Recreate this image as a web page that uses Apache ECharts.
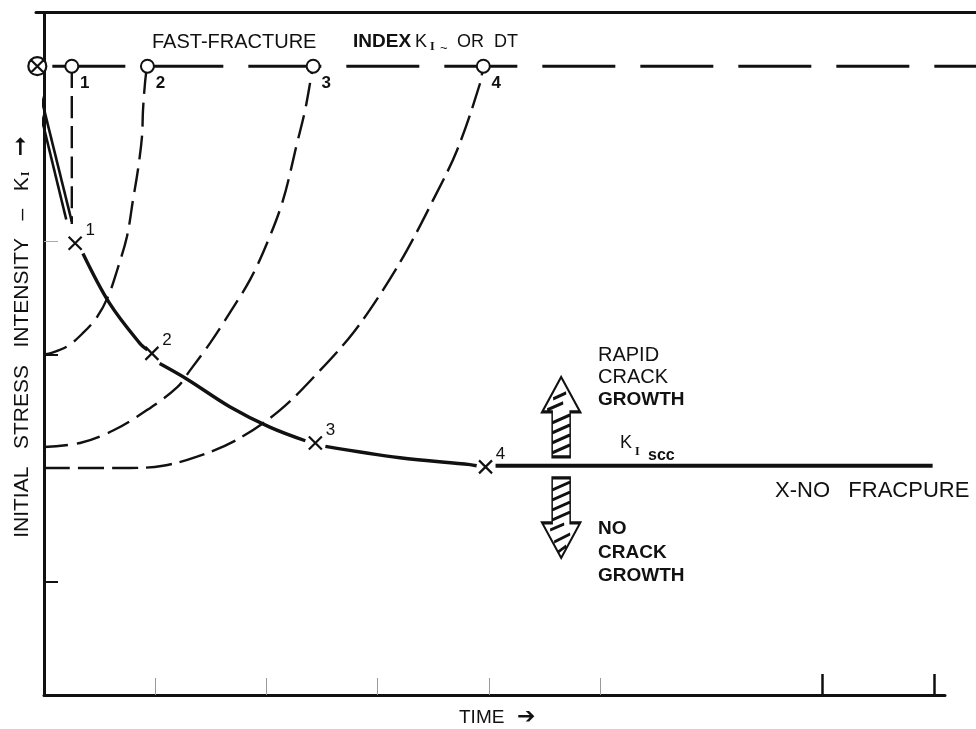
<!DOCTYPE html>
<html>
<head>
<meta charset="utf-8">
<script src="https://cdn.jsdelivr.net/npm/echarts@6/dist/echarts.min.js"></script>
<style>
  html, body { margin: 0; padding: 0; background: #fff; }
  #chart { width: 976px; height: 729px; }
</style>
</head>
<body>
<div id="chart"></div>
<script>
// Fast-fracture level of K and the time span it is drawn over
const fastFractureK = 5.54;
const fastFractureSpan = [-0.06, 8.38];

// Fracture time of each specimen on the fast-fracture line (open circles)
const fractureTimes = [0.25, 0.93, 2.42, 3.95];
const fractureLabels = ['1', '2', '3', '4'];

// Reference specimen broken at once (circled cross)
const instantT = [-0.06];

// Initial K and time to failure of each specimen (X points)
const failTimes = [0.28, 0.97, 2.44, 3.97];
const failK = [3.98, 3.01, 2.22, 2.01];
const failLabels = ['1', '2', '3', '4'];

// K rising with crack growth, specimen 1 to 4 (time, K)
const path1T = [0.25, 0.25];
const path1K = [5.54, 4.15];
const path2T = [0, 0.054, 0.207, 0.351, 0.477, 0.576, 0.657, 0.746, 0.800, 0.845, 0.881, 0.890, 0.908, 0.926];
const path2K = [3.00, 3.01, 3.07, 3.19, 3.33, 3.51, 3.74, 4.04, 4.36, 4.63, 4.92, 5.15, 5.39, 5.54];
const path3T = [0, 0.324, 0.621, 0.926, 1.196, 1.313, 1.493, 1.646, 1.853, 2.005, 2.149, 2.275, 2.347, 2.401, 2.419];
const path3K = [2.185, 2.22, 2.33, 2.51, 2.71, 2.86, 3.10, 3.33, 3.66, 3.98, 4.36, 4.86, 5.15, 5.44, 5.54];
const path4T = [0, 0.773, 1.070, 1.376, 1.736, 2.122, 2.482, 2.779, 3.049, 3.264, 3.498, 3.714, 3.921, 3.948];
const path4K = [2.00, 2.00, 2.02, 2.10, 2.25, 2.51, 2.86, 3.19, 3.57, 3.92, 4.36, 4.80, 5.39, 5.54];

// Initial K vs time to failure, broken (null) around each X
const envelopeT = [-0.06, 0.25, null, 0.35, 0.59, 0.86, 0.93, null, 1.04, 1.29, 1.67, 2.03, 2.35, null, 2.53, 3.20, 3.83, 3.89];
const envelopeK = [5.40, 4.17, null, 3.89, 3.45, 3.10, 3.04, null, 2.92, 2.78, 2.54, 2.36, 2.24, null, 2.19, 2.09, 2.03, 2.02];
// second stroke of the steep first branch
const leadT = [-0.10, 0.20];
const leadK = [5.40, 4.19];

// Threshold K_Iscc and its extent
const kIscc = 2.02;
const kIsccSpan = [4.06, 7.99];

// Hatched direction arrows (time, K of arrow centre)
const upArrowAt = [4.65, 2.45];
const downArrowAt = [4.65, 1.56];

// Axis ranges and tick values
const timeMax = 8.38;      // plotting extent (right edge of the frame)
const timeAxisMax = 8.1;   // end of the drawn time axis
const kMax = 6;
const xTicksLight = [1, 2, 3, 4, 5];
const xTicksDark = [7, 8];
const yTicksDark = [1, 2, 3];
const yTicksLight = [4];

const FONT = '"Liberation Sans", Arial, sans-serif';
const BLACK = '#111';

const pairs = (xs, ys) => xs.map((x, i) => [x, ys[i]]);
function segments(xs, ys) {
  const out = [];
  let cur = [];
  xs.forEach((x, i) => {
    if (x === null) { if (cur.length) out.push(cur); cur = []; }
    else cur.push([x, ys[i]]);
  });
  if (cur.length) out.push(cur);
  return out;
}

const dashedCurve = (data, dash) => ({
  type: 'line', data, symbol: 'none', silent: true, z: 2, clip: false, smooth: 0.35,
  lineStyle: { color: BLACK, width: 2.4, type: dash }
});
const solidCurve = (data, width) => ({
  type: 'line', data, symbol: 'none', silent: true, z: 3, clip: false, smooth: 0.35,
  lineStyle: { color: BLACK, width }
});

const UP_ARROW = 'path://M19,0L38,35L28,35L28,80L10,80L10,35L0,35Z' +
  'M10,46L28,38M10,56L28,48M10,66L28,58M10,76L28,68M5,33L21,26M11,22L24,16';
const DOWN_ARROW = 'path://M19,80L38,45L28,45L28,0L10,0L10,45L0,45Z' +
  'M10,12L28,4M10,22L28,14M10,32L28,24M10,42L28,34M8,52L22,46M12,64L28,56M16,74L24,68';
const CROSS_CIRCLE = 'path://M20,10A10,10,0,1,1,0,10A10,10,0,1,1,20,10ZM3,3L17,17M17,3L3,17';
const CROSS = 'path://M0,0L10,10M10,0L0,10';

const series = [
  {
    type: 'line', symbol: 'none', silent: true, z: 2, clip: false,
    data: [[fastFractureSpan[0], fastFractureK], [fastFractureSpan[1], fastFractureK]],
    lineStyle: { color: BLACK, width: 3, type: [73, 25], dashOffset: 83 }
  },
  dashedCurve(pairs(path1T, path1K), [22, 8]),
  dashedCurve(pairs(path2T, path2K), [24, 9]),
  dashedCurve(pairs(path3T, path3K), [24, 9]),
  dashedCurve(pairs(path4T, path4K), [26, 8]),
  solidCurve(pairs(leadT, leadK), 2.6),
  ...segments(envelopeT, envelopeK).map((seg, i) => solidCurve(seg, i === 0 ? 2.6 : 3.4)),
  solidCurve([[kIsccSpan[0], kIscc], [kIsccSpan[1], kIscc]], 4.2),
  {
    type: 'scatter', z: 6, silent: true,
    data: fractureTimes.map((t, i) => ({ value: [t, fastFractureK], name: fractureLabels[i] })),
    symbol: 'circle', symbolSize: 13,
    itemStyle: { color: '#fff', borderColor: BLACK, borderWidth: 2, opacity: 1 },
    label: {
      show: true, position: 'inside', offset: [13, 17], formatter: '{b}',
      color: BLACK, fontFamily: FONT, fontSize: 17, fontWeight: 'bold'
    }
  },
  {
    type: 'scatter', z: 6, silent: true, clip: false,
    data: instantT.map(t => [t, fastFractureK]),
    symbol: CROSS_CIRCLE, symbolSize: 18,
    itemStyle: { color: '#fff', borderColor: BLACK, borderWidth: 2.2, opacity: 1 }
  },
  {
    type: 'scatter', z: 6, silent: true,
    data: failTimes.map((t, i) => ({ value: [t, failK[i]], name: failLabels[i] })),
    symbol: CROSS, symbolSize: 13,
    itemStyle: { color: 'none', borderColor: BLACK, borderWidth: 2.2, opacity: 1 },
    label: {
      show: true, position: 'inside', offset: [15, -13], formatter: '{b}',
      color: BLACK, fontFamily: FONT, fontSize: 17
    }
  },
  {
    type: 'scatter', z: 6, silent: true,
    data: [upArrowAt], symbol: UP_ARROW, symbolSize: [38, 80],
    itemStyle: { color: '#fff', borderColor: BLACK, borderWidth: 2.2, opacity: 1 }
  },
  {
    type: 'scatter', z: 6, silent: true,
    data: [downArrowAt], symbol: DOWN_ARROW, symbolSize: [38, 80],
    itemStyle: { color: '#fff', borderColor: BLACK, borderWidth: 2.2, opacity: 1 }
  }
];

const txt = (x, y, text, font, extra) => ({
  type: 'text', x, y, silent: true, z: 10,
  style: Object.assign({ text, font, fill: BLACK, align: 'left', verticalAlign: 'middle' }, extra || {})
});

const hidden = { axisLine: { show: false }, axisTick: { show: false }, axisLabel: { show: false }, splitLine: { show: false } };

const option = {
  backgroundColor: '#fff',
  animation: false,
  grid: [
    // plotting area, reaching the right edge of the frame
    { left: 44, top: 14, right: 0, bottom: 34 },
    // top frame line
    { left: 36, top: 12, right: 0, height: 10 },
    // drawn time axis
    { left: 44, top: 14, right: 31, bottom: 34 }
  ],
  xAxis: [
    Object.assign({ type: 'value', gridIndex: 0, min: 0, max: timeMax }, hidden),
    {
      type: 'value', gridIndex: 1, min: 0, max: 1, position: 'top',
      axisLine: { show: true, onZero: false, lineStyle: { color: BLACK, width: 3 } },
      axisTick: { show: false }, axisLabel: { show: false }, splitLine: { show: false }
    },
    {
      type: 'value', gridIndex: 2, min: 0, max: timeAxisMax, interval: 1,
      axisLine: { show: true, onZero: false, lineStyle: { color: BLACK, width: 3 } },
      axisTick: { show: true, inside: true, length: 17, customValues: xTicksLight,
        lineStyle: { color: '#9a9a9a', width: 1 } },
      axisLabel: { show: false }, splitLine: { show: false }
    },
    {
      type: 'value', gridIndex: 2, min: 0, max: timeAxisMax, interval: 1, position: 'bottom',
      axisLine: { show: false, onZero: false },
      axisTick: { show: true, inside: true, length: 21, customValues: xTicksDark,
        lineStyle: { color: BLACK, width: 2.5 } },
      axisLabel: { show: false }, splitLine: { show: false }
    }
  ],
  yAxis: [
    {
      type: 'value', gridIndex: 0, min: 0, max: kMax, interval: 1,
      axisLine: { show: true, onZero: false, lineStyle: { color: BLACK, width: 3 } },
      axisTick: { show: true, inside: true, length: 14, customValues: yTicksDark,
        lineStyle: { color: BLACK, width: 2 } },
      axisLabel: { show: false }, splitLine: { show: false }
    },
    {
      type: 'value', gridIndex: 0, min: 0, max: kMax, interval: 1, position: 'left',
      axisLine: { show: false, onZero: false },
      axisTick: { show: true, inside: true, length: 14, customValues: yTicksLight,
        lineStyle: { color: '#aaa', width: 1 } },
      axisLabel: { show: false }, splitLine: { show: false }
    },
    Object.assign({ type: 'value', gridIndex: 1, min: 0, max: 1 }, hidden),
    Object.assign({ type: 'value', gridIndex: 2, min: 0, max: kMax }, hidden)
  ],
  series: series.map(s => Object.assign({ xAxisIndex: 0, yAxisIndex: 0 }, s)),
  graphic: [
    // fast-fracture caption
    txt(152, 42, 'FAST-FRACTURE', '20px ' + FONT),
    txt(353, 42, 'INDEX', 'bold 19px ' + FONT),
    txt(415, 42, 'K', '18px ' + FONT),
    txt(430, 47, 'I', 'bold 12px "Liberation Serif", serif'),
    txt(440, 48, '~', '13px ' + FONT),
    txt(457, 42, 'OR  DT', '18px ' + FONT),
    // growth regions
    txt(598, 355, 'RAPID', '20px ' + FONT),
    txt(598, 377, 'CRACK', '20px ' + FONT),
    txt(598, 400, 'GROWTH', 'bold 19px ' + FONT),
    txt(598, 529, 'NO', 'bold 19px ' + FONT),
    txt(598, 553, 'CRACK', 'bold 19px ' + FONT),
    txt(598, 576, 'GROWTH', 'bold 19px ' + FONT),
    // threshold label
    txt(620, 443, 'K', '18px ' + FONT),
    txt(635, 452, 'I', 'bold 12px "Liberation Serif", serif'),
    txt(648, 456, 'scc', 'bold 16px ' + FONT),
    txt(775, 491, 'X-NO   FRACPURE', '22px ' + FONT),
    // axis captions
    txt(459, 718, 'TIME', '19px ' + FONT),
    txt(517, 717, '\u2794', '22px "DejaVu Sans", sans-serif'),
    {
      type: 'text', x: 22, y: 337, rotation: Math.PI / 2, silent: true, z: 10,
      style: {
        text: '{t|INITIAL   STRESS   INTENSITY   \u2013   K}{s|I}{a|  \u279E}',
        align: 'center', verticalAlign: 'middle', fill: BLACK,
        rich: {
          t: { font: '21px ' + FONT, fill: BLACK },
          s: { font: 'bold 12px "Liberation Serif", serif', fill: BLACK, padding: [8, 0, 0, 1] },
          a: { font: '24px "DejaVu Sans", sans-serif', fill: BLACK }
        }
      }
    }
  ]
};

const chart = echarts.init(document.getElementById('chart'), null, { renderer: 'canvas' });
chart.setOption(option);
</script>
</body>
</html>
